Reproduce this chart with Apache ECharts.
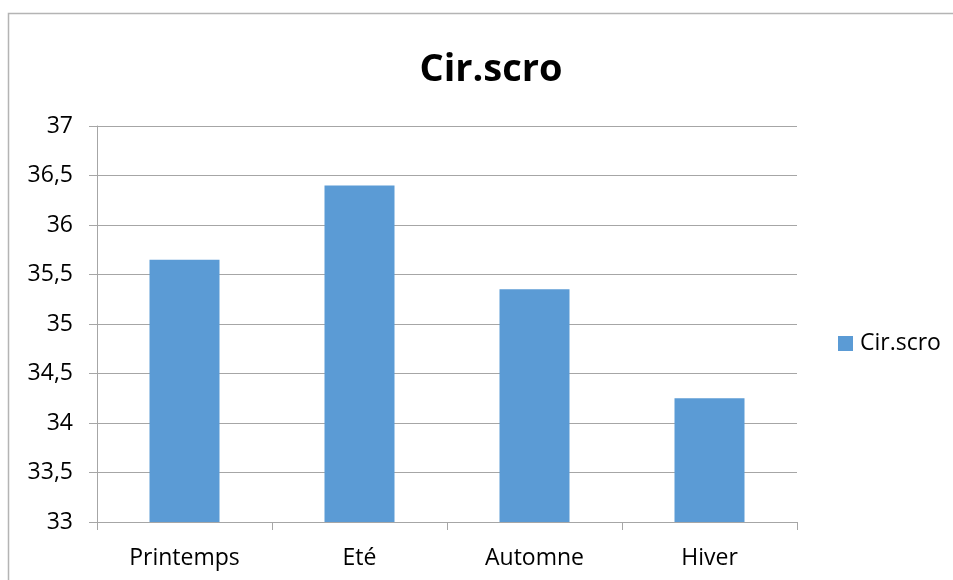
<!DOCTYPE html>
<html>
<head>
<meta charset="utf-8">
<script src="https://cdn.jsdelivr.net/npm/echarts@6/dist/echarts.min.js"></script>
<style>
  html, body { margin: 0; padding: 0; background: #ffffff; }
  #chart { width: 953px; height: 580px; }
</style>
</head>
<body>
<div id="chart"></div>
<script>
// Seasonal values for Cir.scro
const seasons = ['Printemps', 'Eté', 'Automne', 'Hiver'];
const cirScro = [35.65, 36.4, 35.35, 34.25];
const seriesName = 'Cir.scro';

const FONT = '"Open Sans", "Liberation Sans", sans-serif';
const GRID_GRAY = '#a6a6a6';

const chart = echarts.init(document.getElementById('chart'), null, { renderer: 'canvas' });

chart.setOption({
  animation: false,
  backgroundColor: '#ffffff',
  textStyle: { fontFamily: FONT },
  graphic: [{
    type: 'rect',
    shape: { x: 8.5, y: 13.5, width: 1000, height: 1000 },
    style: { fill: 'none', stroke: '#b4b4b4', lineWidth: 1.5 },
    silent: true,
    z: -10
  }],
  title: {
    text: seriesName,
    left: 486,
    top: 46,
    textAlign: 'center',
    textStyle: { fontFamily: FONT, fontSize: 38, fontWeight: 'bold', color: '#000000' }
  },
  legend: {
    data: [seriesName],
    left: 833,
    top: 327,
    padding: 5,
    itemWidth: 15,
    itemHeight: 15,
    itemGap: 6,
    icon: 'rect',
    textStyle: { fontFamily: FONT, fontSize: 23, color: '#000000', padding: [0, 0, 0, 2] }
  },
  grid: { left: 97, right: 156, top: 126, bottom: 58, containLabel: false },
  xAxis: {
    type: 'category',
    data: seasons,
    axisLine: { lineStyle: { color: GRID_GRAY, width: 1 } },
    axisTick: { show: true, length: 8, lineStyle: { color: GRID_GRAY } },
    axisLabel: { fontFamily: FONT, fontSize: 23, color: '#000000', margin: 25 }
  },
  yAxis: {
    type: 'value',
    min: 33,
    max: 37,
    interval: 0.5,
    axisLine: { show: true, lineStyle: { color: GRID_GRAY, width: 1 } },
    axisTick: { show: true, length: 8, lineStyle: { color: GRID_GRAY } },
    splitLine: { show: true, lineStyle: { color: GRID_GRAY, width: 1 } },
    axisLabel: {
      fontFamily: FONT, fontSize: 23, color: '#000000', margin: 24,
      formatter: v => String(v).replace('.', ',')
    }
  },
  series: [{
    name: seriesName,
    type: 'bar',
    data: cirScro,
    barWidth: '40%',
    itemStyle: { color: '#5b9bd5' }
  }]
});
</script>
</body>
</html>
